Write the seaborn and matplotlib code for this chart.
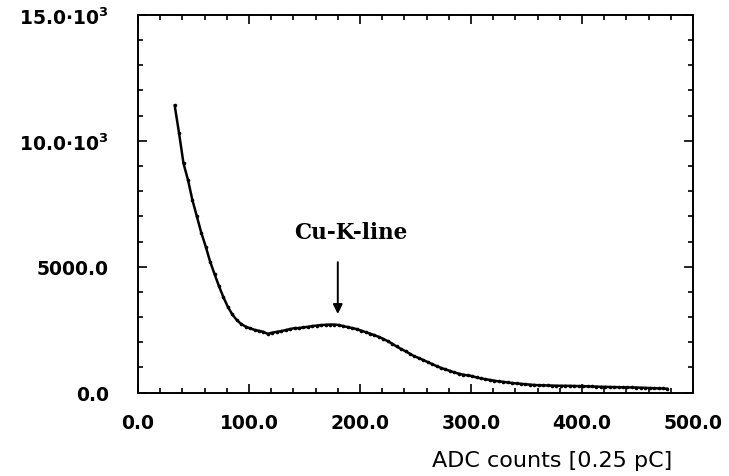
import numpy as np
import pandas as pd
import matplotlib
matplotlib.use("Agg")
import matplotlib.pyplot as plt
import seaborn as sns
from matplotlib.ticker import MultipleLocator, FixedLocator

adc = [33, 37, 41, 45, 49, 53, 57, 61, 65, 69, 73, 77, 81, 85, 89, 93, 97, 101,
       105, 109, 113, 117, 121, 125, 129, 133, 137, 141, 145, 149, 153, 157, 161,
       165, 169, 173, 177, 181, 185, 189, 193, 197, 201, 205, 209, 213, 217, 221,
       225, 229, 233, 237, 241, 245, 249, 253, 257, 261, 265, 269, 273, 277, 281,
       285, 289, 293, 297, 301, 305, 309, 313, 317, 321, 325, 329, 333, 337, 341,
       345, 349, 353, 357, 361, 365, 369, 373, 377, 381, 385, 389, 393, 397, 401,
       405, 409, 413, 417, 421, 425, 429, 433, 437, 441, 445, 449, 453, 457, 461,
       465, 469, 473, 477]
counts = [11420, 10300, 9100, 8450, 7650, 7000, 6350, 5800, 5200, 4700, 4220,
          3780, 3400, 3100, 2880, 2720, 2620, 2550, 2490, 2450, 2410, 2330, 2380,
          2410, 2440, 2480, 2520, 2560, 2560, 2590, 2610, 2640, 2660, 2680, 2690,
          2700, 2700, 2680, 2640, 2600, 2560, 2520, 2460, 2400, 2340, 2280, 2210,
          2130, 2040, 1940, 1830, 1730, 1640, 1540, 1440, 1370, 1290, 1210, 1130,
          1050, 980, 920, 860, 800, 750, 710, 680, 650, 600, 560, 530, 500, 470,
          445, 425, 400, 380, 360, 345, 330, 315, 300, 290, 285, 280, 275, 270,
          268, 266, 264, 260, 255, 250, 245, 240, 235, 228, 225, 220, 215, 212,
          208, 205, 202, 198, 192, 185, 178, 172, 165, 160, 150]

x_ticks = [0, 100, 200, 300, 400, 500]
x_ticklabels = ["0.0", "100.0", "200.0", "300.0", "400.0", "500.0"]
y_ticks = [0, 5000, 10000, 15000]
y_ticklabels = ["0.0", "5000.0", r"10.0$\cdot$10$^{\mathbf{3}}$", r"15.0$\cdot$10$^{\mathbf{3}}$"]

annotation_text = "Cu-K-line"
annotation_x = 180
xlabel_text = "ADC counts [0.25 pC]"

df = pd.DataFrame({"adc": adc, "counts": counts})

sns.set_theme(style="ticks")
plt.rcParams["font.family"] = ["DejaVu Sans"]
plt.rcParams["mathtext.default"] = "bf"

fig = plt.figure(figsize=(7.29, 4.77), dpi=100)
ax = fig.add_axes([0.1893, 0.175, 0.7613, 0.7915])

sns.lineplot(data=df, x="adc", y="counts", ax=ax, color="black", linewidth=1.8,
             marker="o", markersize=2.6, markeredgewidth=0, markerfacecolor="black")

ax.set_xlim(0, 500)
ax.set_ylim(0, 15000)
ax.xaxis.set_major_locator(FixedLocator(x_ticks))
ax.set_xticklabels(x_ticklabels)
ax.yaxis.set_major_locator(FixedLocator(y_ticks))
ax.set_yticklabels(y_ticklabels)
ax.xaxis.set_minor_locator(MultipleLocator(20))
ax.yaxis.set_minor_locator(MultipleLocator(1000))

ax.tick_params(which="both", direction="in", top=True, right=True, width=1.2, color="black")
ax.tick_params(which="major", length=6.5)
ax.tick_params(which="minor", length=3.5)
ax.tick_params(axis="x", which="major", pad=15, labelsize=13.5)
ax.tick_params(axis="y", which="major", pad=21, labelsize=13.5)
for lab in ax.get_xticklabels() + ax.get_yticklabels():
    lab.set_fontweight("bold")
    lab.set_color("black")

for s in ax.spines.values():
    s.set_linewidth(1.4)
    s.set_color("black")

ax.set_xlabel("")
ax.set_ylabel("")
ax.text(0.962, -0.178, xlabel_text, transform=ax.transAxes, ha="right", va="center",
        fontsize=16, color="black")

ax.annotate("", xy=(annotation_x, 3120), xytext=(annotation_x, 5180),
            arrowprops=dict(arrowstyle="-|>", color="black", lw=1.4,
                            mutation_scale=14, shrinkA=0, shrinkB=0))
ax.text(192, 6380, annotation_text, ha="center", va="center", fontsize=15.5,
        family="DejaVu Serif", fontweight="bold", color="black")

fig.savefig("out.png", dpi=100, facecolor="white")
